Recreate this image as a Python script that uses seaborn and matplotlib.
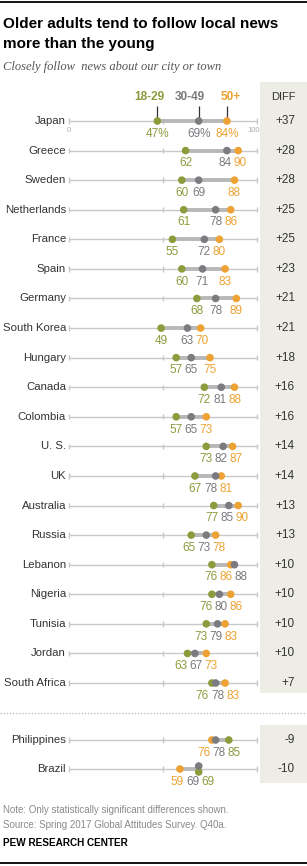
import numpy as np
import pandas as pd
import matplotlib.pyplot as plt
import seaborn as sns
from matplotlib.patches import Rectangle

# data
countries = ["Japan", "Greece", "Sweden", "Netherlands", "France", "Spain", "Germany",
             "South Korea", "Hungary", "Canada", "Colombia", "U. S.", "UK", "Australia",
             "Russia", "Lebanon", "Nigeria", "Tunisia", "Jordan", "South Africa",
             "Philippines", "Brazil"]
age_18_29 = [47, 62, 60, 61, 55, 60, 68, 49, 57, 72, 57, 73, 67, 77, 65, 76, 76, 73, 63, 76, 85, 69]
age_30_49 = [69, 84, 69, 78, 72, 71, 78, 63, 65, 81, 65, 82, 78, 85, 73, 88, 80, 79, 67, 78, 78, 69]
age_50_plus = [84, 90, 88, 86, 80, 83, 89, 70, 75, 88, 73, 87, 81, 90, 78, 86, 86, 83, 73, 83, 76, 59]
diff = ["+37", "+28", "+28", "+25", "+25", "+23", "+21", "+21", "+18", "+16", "+16", "+14",
        "+14", "+13", "+13", "+10", "+10", "+10", "+10", "+7", "-9", "-10"]
groups = ["18-29", "30-49", "50+"]

colors = {"18-29": "#8d9b3d", "30-49": "#7b7b80", "50+": "#eda233"}

W, H = 307, 866
ROW0, ROWH = 121, 29.58
X0, XS = 69, 1.88


def px2v(px):
    return (px - X0) / XS


def py2r(py):
    return (py - ROW0) / ROWH


def fx(px):
    return px / W


def fy(py):
    return 1 - py / H


# row positions (second group sits lower, after the separator)
rows = [float(i) for i in range(20)] + [py2r(740), py2r(769)]

df = pd.DataFrame({"country": countries, "row": rows,
                   "18-29": age_18_29, "30-49": age_30_49, "50+": age_50_plus})
long = df.melt(id_vars=["country", "row"], value_vars=groups,
               var_name="age", value_name="pct")
# nudge tied dots apart vertically
long["y"] = long["row"]
for c in countries:
    sub = long[long.country == c]
    for v, grp in sub.groupby("pct"):
        if len(grp) > 1:
            offs = np.linspace(-0.1, 0.1, len(grp))
            order = grp.sort_values("age", key=lambda s: s.map({"30-49": 0, "18-29": 1, "50+": 2}))
            for o, idx in zip(offs, order.index):
                long.loc[idx, "y"] += o

sns.set_style("white")
plt.rcParams["font.family"] = ["Liberation Sans", "DejaVu Sans"]

fig = plt.figure(figsize=(W / 100, H / 100), dpi=100)
ax = fig.add_axes([0, 0, 1, 1])

# DIFF column shading
ax.add_patch(Rectangle((px2v(260), py2r(82)), px2v(W + 5) - px2v(260), py2r(693) - py2r(82),
                       facecolor="#eeede5", edgecolor="none", zorder=0))
ax.add_patch(Rectangle((px2v(260), py2r(725)), px2v(W + 5) - px2v(260), py2r(783) - py2r(725),
                       facecolor="#eeede5", edgecolor="none", zorder=0))

# axis lines and ticks
ax.hlines(df["row"], 0, 100, color="#c8c8c8", lw=1, zorder=1)
for t in [0, 50, 100]:
    for r in df["row"]:
        ax.vlines(t, r - 0.09, r + 0.09, color="#c8c8c8", lw=1, zorder=1)

# range bars
lo = df[groups].min(axis=1)
hi = df[groups].max(axis=1)
ax.hlines(df["row"], lo, hi, color="#b8b8b8", lw=2.8, zorder=2)

sns.scatterplot(data=long[long.age != "30-49"], x="pct", y="y", hue="age", palette=colors,
                s=30, edgecolor="none", legend=False, ax=ax, zorder=3)
sns.scatterplot(data=long[long.age == "30-49"], x="pct", y="y", hue="age", palette=colors,
                s=30, edgecolor="none", legend=False, ax=ax, zorder=4)
ax.set_xlim(px2v(0), px2v(W))
ax.set_ylim(py2r(H), py2r(0))
ax.axis("off")


def spread(vals, gap=8.0):
    pos = list(vals)
    for _ in range(200):
        moved = False
        for i in range(len(pos) - 1):
            d = pos[i + 1] - pos[i]
            if d < gap - 1e-6:
                push = (gap - d) / 2
                pos[i] -= push
                pos[i + 1] += push
                moved = True
        if not moved:
            break
    return pos


prio = {"30-49": 0, "18-29": 1, "50+": 2}
for i, r in df.iterrows():
    items = sorted([(r[g], prio[g], g) for g in groups])
    gap = 10.5 if i == 0 else 8.0
    xs = spread([it[0] for it in items], gap)
    for (v, _, g), x in zip(items, xs):
        lab = f"{v}%" if i == 0 else f"{v}"
        ax.text(x, r["row"] + 0.43, lab, ha="center", va="center", fontsize=8.5,
                color=colors[g], zorder=5)
    ax.text(px2v(66), r["row"], r["country"], ha="right", va="center", fontsize=8.2,
            color="#333333")
    ax.text(px2v(295), r["row"], diff[i], ha="right", va="center", fontsize=8.5,
            color="#333333")

# scale labels on first row
ax.text(0, 0.33, "0", ha="center", va="center", fontsize=5.5, color="#aaaaaa")
ax.text(98, 0.33, "100", ha="center", va="center", fontsize=5.5, color="#aaaaaa")

# legend above first row
leg_x = {"18-29": px2v(149), "30-49": px2v(190), "50+": px2v(231)}
for g, v in zip(groups, df.loc[0, groups]):
    ax.text(leg_x[g], py2r(97), g, ha="center", va="center", fontsize=8.5,
            fontweight="bold", color=colors[g])
    ax.vlines(v, py2r(106), py2r(118), color="#333333", lw=0.9, zorder=2)
ax.text(px2v(283), py2r(97), "DIFF", ha="center", va="center", fontsize=8, color="#333333")

# separator
ax.hlines(py2r(713), px2v(0), px2v(W), color="#b5b5b5", lw=0.9, linestyles=(0, (1, 1.5)))

# frame lines
fig.add_artist(plt.Line2D([0, 1], [fy(2), fy(2)], color="black", lw=1.3))
fig.add_artist(plt.Line2D([0, 1], [fy(863), fy(863)], color="black", lw=1.3))

fig.text(fx(3), fy(28), "Older adults tend to follow local news", fontsize=11,
         fontweight="bold", color="black", va="baseline")
fig.text(fx(3), fy(48), "more than the young", fontsize=11,
         fontweight="bold", color="black", va="baseline")
fig.text(fx(3), fy(70), "Closely follow  news about our city or town", fontsize=9,
         style="italic", family=["Liberation Serif", "DejaVu Serif"], color="#555555",
         va="baseline")
fig.text(fx(3), fy(810), "Note: Only statistically significant differences shown.",
         fontsize=7, color="#8a8a8a", va="center")
fig.text(fx(3), fy(825), "Source: Spring 2017 Global Attitudes Survey. Q40a.",
         fontsize=7, color="#8a8a8a", va="center")
fig.text(fx(3), fy(843), "PEW RESEARCH CENTER", fontsize=7.2, fontweight="bold",
         color="black", va="center")

fig.savefig("out.png", dpi=100)
